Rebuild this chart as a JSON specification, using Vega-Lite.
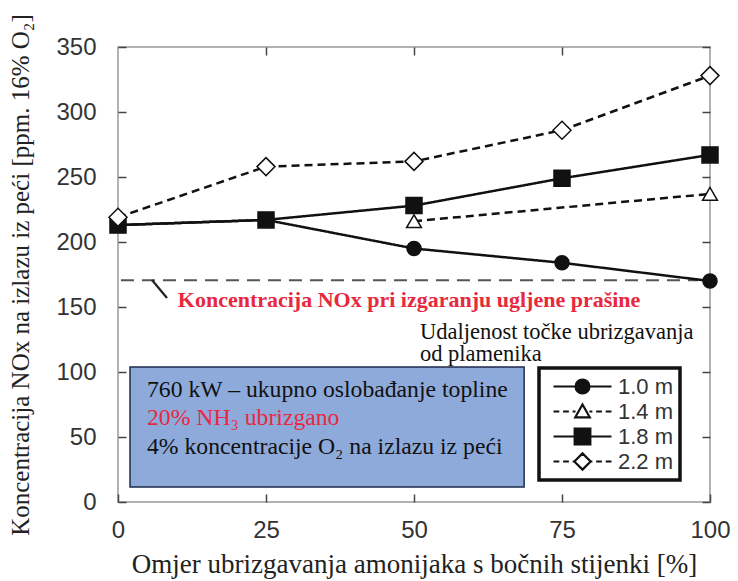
{
  "$schema": "https://vega.github.io/schema/vega-lite/v6.json",
  "autosize": "none",
  "width": 592,
  "height": 455,
  "padding": {"left": 118, "top": 47, "right": 28, "bottom": 79},
  "background": "white",
  "config": {
    "view": {"stroke": "#999", "strokeWidth": 1.5},
    "axis": {"grid": false, "domain": false, "ticks": true, "tickSize": -8, "tickColor": "#444", "tickWidth": 1.5},
    "legend": {"strokeWidth": 3.5}
  },
  "datasets": {
    "series": [
      {"x": 0, "y": 213, "s": "1.0 m"}, {"x": 25, "y": 217, "s": "1.0 m"}, {"x": 50, "y": 195, "s": "1.0 m"}, {"x": 75, "y": 184, "s": "1.0 m"}, {"x": 100, "y": 170, "s": "1.0 m"},
      {"x": 50, "y": 216, "s": "1.4 m"}, {"x": 100, "y": 237, "s": "1.4 m"},
      {"x": 0, "y": 213, "s": "1.8 m"}, {"x": 25, "y": 217, "s": "1.8 m"}, {"x": 50, "y": 228, "s": "1.8 m"}, {"x": 75, "y": 249, "s": "1.8 m"}, {"x": 100, "y": 267, "s": "1.8 m"},
      {"x": 0, "y": 219, "s": "2.2 m"}, {"x": 25, "y": 258, "s": "2.2 m"}, {"x": 50, "y": 262, "s": "2.2 m"}, {"x": 75, "y": 286, "s": "2.2 m"}, {"x": 100, "y": 328, "s": "2.2 m"}
    ]
  },
  "resolve": {"axis": {"x": "independent", "y": "independent"}},
  "layer": [
    {
      "data": {"values": [{"x": 2.03, "x2": 68.6, "y": 11.5, "y2": 103.8}]},
      "mark": {"type": "rect", "fill": "#8eaadb", "stroke": "#1c2a4a", "strokeWidth": 1.5},
      "encoding": {
        "x": {"field": "x", "type": "quantitative", "scale": {"domain": [0, 100]}, "axis": null},
        "x2": {"field": "x2"},
        "y": {"field": "y", "type": "quantitative", "scale": {"domain": [0, 350]}, "axis": null},
        "y2": {"field": "y2"}
      }
    },
    {
      "data": {"values": [{"x": 4.9, "y": 86.2, "t": "760 kW – ukupno oslobađanje topline"}, {"x": 4.9, "y": 42.3, "t": "4% koncentracije O₂ na izlazu iz peći"}]},
      "mark": {"type": "text", "align": "left", "baseline": "middle", "font": "Liberation Serif", "fontSize": 23.7, "color": "#111"},
      "encoding": {
        "x": {"field": "x", "type": "quantitative", "axis": null},
        "y": {"field": "y", "type": "quantitative", "axis": null},
        "text": {"field": "t"}
      }
    },
    {
      "data": {"values": [{"x": 4.9, "y": 64.6, "t": "20% NH₃ ubrizgano"}]},
      "mark": {"type": "text", "align": "left", "baseline": "middle", "font": "Liberation Serif", "fontSize": 23.7, "color": "#e8283c"},
      "encoding": {
        "x": {"field": "x", "type": "quantitative", "axis": null},
        "y": {"field": "y", "type": "quantitative", "axis": null},
        "text": {"field": "t"}
      }
    },
    {
      "data": {"values": [{"x": 0.5, "x2": 98, "y": 170.5}]},
      "mark": {"type": "rule", "stroke": "#555", "strokeWidth": 2, "strokeDash": [13, 8]},
      "encoding": {
        "x": {"field": "x", "type": "quantitative", "axis": null},
        "x2": {"field": "x2"},
        "y": {"field": "y", "type": "quantitative", "axis": null}
      }
    },
    {
      "data": {"values": [{"x": 5.74, "x2": 8.28, "y": 170.8, "y2": 156.9}]},
      "mark": {"type": "rule", "stroke": "#222", "strokeWidth": 2.2},
      "encoding": {
        "x": {"field": "x", "type": "quantitative", "axis": null},
        "x2": {"field": "x2"},
        "y": {"field": "y", "type": "quantitative", "axis": null},
        "y2": {"field": "y2"}
      }
    },
    {
      "data": {"values": [{"x": 10.1, "y": 155.4, "t": "Koncentracija NOx pri izgaranju ugljene prašine"}]},
      "mark": {"type": "text", "align": "left", "baseline": "middle", "font": "Liberation Serif", "fontSize": 22, "fontWeight": "bold", "color": "#e8283c"},
      "encoding": {
        "x": {"field": "x", "type": "quantitative", "axis": null},
        "y": {"field": "y", "type": "quantitative", "axis": null},
        "text": {"field": "t"}
      }
    },
    {
      "data": {"values": [{"x": 51, "y": 130.8, "t": "Udaljenost točke ubrizgavanja"}, {"x": 51, "y": 113.5, "t": "od plamenika"}]},
      "mark": {"type": "text", "align": "left", "baseline": "middle", "font": "Liberation Serif", "fontSize": 22.5, "color": "#111"},
      "encoding": {
        "x": {"field": "x", "type": "quantitative", "axis": null},
        "y": {"field": "y", "type": "quantitative", "axis": null},
        "text": {"field": "t"}
      }
    },
    {
      "data": {"name": "series"},
      "mark": {"type": "line", "stroke": "#111", "strokeWidth": 2.5},
      "encoding": {
        "x": {"field": "x", "type": "quantitative",
          "axis": {"orient": "bottom", "values": [0, 25, 50, 75, 100], "labelFlush": false, "labelFont": "Liberation Sans", "labelFontSize": 24, "labelColor": "#333", "labelPadding": 24,
            "title": "Omjer ubrizgavanja amonijaka s bočnih stijenki [%]", "titleFont": "Liberation Serif", "titleFontSize": 27, "titleFontWeight": "normal", "titleColor": "#222", "titlePadding": 9}},
        "y": {"field": "y", "type": "quantitative",
          "axis": {"orient": "left", "values": [0, 50, 100, 150, 200, 250, 300, 350], "labelFont": "Liberation Sans", "labelFontSize": 24, "labelColor": "#333", "labelPadding": 30,
            "title": "Koncentracija NOx na izlazu iz peći [ppm. 16% O₂]", "titleFont": "Liberation Serif", "titleFontSize": 25, "titleFontWeight": "normal", "titleColor": "#222", "titlePadding": 22}},
        "strokeDash": {"condition": {"test": "datum.s === '1.4 m' || datum.s === '2.2 m'", "value": [8, 5]}, "value": [1, 0]},
        "detail": {"field": "s"}
      }
    },
    {
      "data": {"name": "series"},
      "mark": {"type": "point", "filled": true, "stroke": "#111", "strokeWidth": 1.5, "opacity": 1},
      "encoding": {
        "x": {"field": "x", "type": "quantitative",
          "axis": {"orient": "top", "values": [25, 50, 75], "labels": false, "title": null}},
        "y": {"field": "y", "type": "quantitative",
          "axis": {"orient": "right", "values": [0, 50, 100, 150, 200, 250, 300, 350], "labels": false, "title": null}},
        "shape": {"condition": [{"test": "datum.s === '1.0 m'", "value": "circle"}, {"test": "datum.s === '1.4 m'", "value": "triangle-up"}, {"test": "datum.s === '1.8 m'", "value": "square"}], "value": "diamond"},
        "fill": {"condition": {"test": "datum.s === '1.0 m' || datum.s === '1.8 m'", "value": "#111"}, "value": "#ffffff"},
        "size": {"condition": [{"test": "datum.s === '1.0 m'", "value": 196}, {"test": "datum.s === '1.4 m'", "value": 220}, {"test": "datum.s === '1.8 m'", "value": 256}], "value": 324}
      }
    },
    {
      "data": {"name": "series"},
      "transform": [{"filter": "false"}],
      "mark": {"type": "point", "filled": false, "color": "#111", "strokeWidth": 2.2},
      "encoding": {
        "x": {"field": "x", "type": "quantitative", "axis": null},
        "y": {"field": "y", "type": "quantitative", "axis": null},
        "shape": {"field": "s", "type": "nominal",
          "scale": {"domain": ["1.0 m", "1.4 m", "1.8 m", "2.2 m"], "range": [
            "M-1,0H1M-0.24,0A0.24,0.24,0,1,0,0.24,0A0.24,0.24,0,1,0,-0.24,0ZM-0.18,0A0.18,0.18,0,1,0,0.18,0A0.18,0.18,0,1,0,-0.18,0ZM-0.12,0A0.12,0.12,0,1,0,0.12,0A0.12,0.12,0,1,0,-0.12,0ZM-0.06,0A0.06,0.06,0,1,0,0.06,0A0.06,0.06,0,1,0,-0.06,0Z",
            "M-1,0H-0.8M-0.67,0H-0.47M-0.34,0H-0.24M0.24,0H0.34M0.47,0H0.67M0.8,0H1M0,-0.24L0.25,0.2L-0.25,0.2Z",
            "M-1,0H1M-0.27,-0.27H0.27V0.27H-0.27ZM-0.27,-0.2H0.27M-0.27,-0.14H0.27M-0.27,-0.08H0.27M-0.27,-0.02H0.27M-0.27,0.04H0.27M-0.27,0.1H0.27M-0.27,0.16H0.27M-0.27,0.22H0.27",
            "M-1,0H-0.8M-0.67,0H-0.47M-0.34,0H-0.28M0.28,0H0.34M0.47,0H0.67M0.8,0H1M0,-0.28L0.28,0L0,0.28L-0.28,0Z"]},
          "legend": {"title": null, "orient": "none", "legendX": 421, "legendY": 321, "padding": 6, "rowPadding": 0, "fillColor": "white", "strokeColor": "#111",
            "symbolSize": 3364, "symbolOffset": 7, "clipHeight": 25, "symbolOpacity": 1, "symbolStrokeColor": "#111", "symbolStrokeWidth": 2.2, "symbolFillColor": "#ffffff",
            "labelFont": "Liberation Sans", "labelFontSize": 22, "labelColor": "#333", "labelOffset": 5}}
      }
    }
  ]
}
